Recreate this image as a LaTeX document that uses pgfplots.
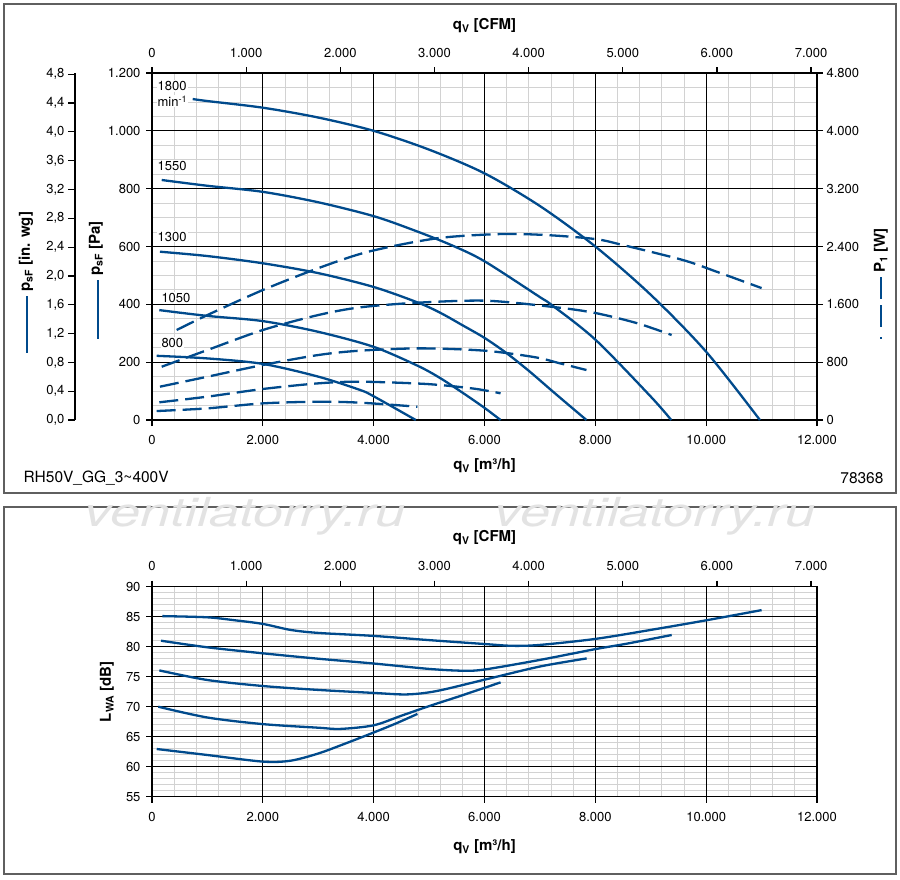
\documentclass[border=0pt]{standalone}
\usepackage{pgfplots}
\pgfplotsset{compat=1.18}
\usepackage{fontspec}
\setmainfont{TeX Gyre Heros}
\definecolor{curve}{RGB}{0,74,140}
\definecolor{mgrid}{RGB}{210,210,210}
\definecolor{framec}{RGB}{95,95,95}
\pgfplotsset{
  base/.style={scale only axis, width=665pt,
    xmin=0, xmax=12000,
    axis line style={black, line width=1.4pt},
    tick style={black, line width=1.2pt},
    major tick length=6pt, minor tick length=0pt,
    tick align=outside,
    ticklabel style={font=\fontsize{13}{15}\selectfont},
    label style={font=\bfseries\fontsize{15}{17}\selectfont},
    scaled ticks=false,
    /pgf/number format/assume math mode=true,
    /pgf/number format/use comma,
    /pgf/number format/1000 sep={.},
  },
  gridonly/.style={scale only axis, width=665pt, xmin=0, xmax=12000,
    axis line style={draw=none}, tick style={draw=none},
    scaled ticks=false,
    xticklabels={}, yticklabels={}, grid=minor,
    minor grid style={mgrid, line width=0.8pt}},
  cP/.style={curve, line width=2.3pt, smooth, tension=0.5, mark=none},
  cW/.style={curve, line width=2.3pt, smooth, tension=0.5, mark=none, dash pattern=on 19pt off 7pt},
}
\begin{document}
\begin{tikzpicture}
\useasboundingbox (0,0) rectangle (900pt,-879pt);
\fill[white] (0,0) rectangle (900pt,-879pt);
\draw[framec, line width=1.3pt] (4pt,-4pt) rectangle (896pt,-493pt);
\draw[framec, line width=1.3pt] (4pt,-507pt) rectangle (896pt,-874pt);

% watermark
\node[font=\itshape\fontsize{40}{40}\selectfont, text=black!11, xscale=1.35] at (245pt,-516pt) {ventilatorry.ru};
\node[font=\itshape\fontsize{40}{40}\selectfont, text=black!11, xscale=1.35] at (655pt,-516pt) {ventilatorry.ru};

% ================= TOP PANEL =================
\begin{axis}[gridonly, at={(152pt,-420pt)}, anchor=south west, height=347pt,
  ymin=0, ymax=1200, xtick={0,2000,...,12000}, ytick={0,200,...,1200},
  minor x tick num=4, minor y tick num=3]
\end{axis}

\begin{axis}[base, at={(152pt,-420pt)}, anchor=south west, height=347pt,
  ymin=0, ymax=1200,
  xtick={0,2000,...,12000}, ytick={0,200,...,1200},
  grid=major, major grid style={black, line width=1.2pt},
  xtick pos=left, ytick pos=left,
  xticklabel style={yshift=-6pt},
  yticklabel style={xshift=-2pt},
  xlabel={q\textsubscript{V} [m³/h]},
  xlabel style={at={(axis description cs:0.5,0)}, anchor=center, yshift=-46pt},
]
\addplot[cP] coordinates {(734,1110)(1000,1103)(2000,1080)(3000,1046)(4000,1000)(5000,935)(6000,853)(7000,740)(8000,600)(9000,433)(10000,236)(10970,0)};
\addplot[cP] coordinates {(175,830)(1000,810)(2000,789)(3000,753)(4000,705)(4716,657)(5400,605)(6000,549)(7000,425)(7212,398)(8000,278)(9000,81)(9370,0)};
\addplot[cP] coordinates {(144,582)(1000,567)(2000,542)(3000,508)(4000,460)(4800,406)(5200,371)(5600,328)(6000,284)(6400,231)(6800,170)(7200,104)(7500,55)(7840,0)};
\addplot[cP] coordinates {(132,380)(1000,360)(2000,342)(3000,305)(4000,253)(4800,187)(5200,145)(5600,95)(6000,42)(6290,0)};
\addplot[cP] coordinates {(85,222)(1000,213)(2000,194)(3000,150)(3753,104)(4000,82)(4760,0)};
\begin{scope}[every node/.style={anchor=west, fill=white, inner sep=1pt, font=\fontsize{13}{15}\selectfont}]
\node at (axis cs:80,1155) {1800};
\node at (axis cs:80,1103) {min\textsuperscript{-1}};
\node at (axis cs:80,880) {1550};
\node at (axis cs:80,634) {1300};
\node at (axis cs:150,422) {1050};
\node at (axis cs:150,266) {800};
\end{scope}
\end{axis}

% P1 right axis
\begin{axis}[base, at={(152pt,-420pt)}, anchor=south west, height=347pt,
  ymin=0, ymax=4800, axis x line=none, axis y line*=right,
  ytick={0,800,...,4800}, ytick pos=right,
]
\addplot[cW] coordinates {(445,1245)(1000,1452)(2000,1798)(3000,2100)(3904,2328)(5137,2513)(6280,2572)(7122,2558)(8000,2503)(8500,2420)(9580,2213)(10190,2051)(11000,1825)};
\addplot[cW] coordinates {(175,737)(1000,968)(2000,1245)(3000,1452)(3753,1558)(4776,1622)(6040,1650)(7303,1558)(8000,1480)(8745,1341)(9377,1176)};
\addplot[cW] coordinates {(144,461)(1000,599)(2000,761)(3000,899)(3753,959)(4850,991)(6000,959)(6900,870)(7362,784)(7840,691)};
\addplot[cW] coordinates {(132,245)(1000,323)(2000,429)(3000,507)(3753,530)(4956,498)(5800,435)(6290,369)};
\addplot[cW] coordinates {(85,124)(1000,161)(2000,230)(3000,253)(3753,240)(4790,184)};
\end{axis}

% CFM top axis
\begin{axis}[base, at={(152pt,-420pt)}, anchor=south west, height=347pt,
  xmin=0, xmax=7062.9, ymin=0, ymax=1,
  axis y line=none, axis x line*=top,
  xtick={0,1000,...,7000},
  xticklabel style={yshift=6pt},
  xlabel={q\textsubscript{V} [CFM]},
  xlabel style={at={(axis description cs:0.5,1)}, anchor=center, yshift=47pt},
]
\end{axis}

% in. wg axis
\begin{axis}[scale only axis, at={(75pt,-420pt)}, anchor=south west, width=1pt, height=347pt,
  xmin=0, xmax=1, ymin=0, ymax=4.817,
  axis x line=none, axis y line*=left,
  axis line style={black, line width=1.4pt},
  tick style={black, line width=1.2pt}, major tick length=7pt, tick align=outside,
  ytick={0,0.4,0.8,1.2,1.6,2.0,2.4,2.8,3.2,3.6,4.0,4.4,4.8},
  ticklabel style={font=\fontsize{13}{15}\selectfont},
  yticklabel style={/pgf/number format/.cd, fixed, fixed zerofill, precision=1, use comma, assume math mode=true},
]
\end{axis}

% axis titles with keys
\node[rotate=90, anchor=west, inner sep=0pt, font=\bfseries\fontsize{15}{17}\selectfont] at (26pt,-292pt) {p\textsubscript{sF} [in. wg]};
\draw[curve, line width=2.3pt] (26.7pt,-296pt) -- (26.7pt,-353pt);
\node[rotate=90, anchor=west, inner sep=0pt, font=\bfseries\fontsize{15}{17}\selectfont] at (96pt,-276pt) {p\textsubscript{sF} [Pa]};
\draw[curve, line width=2.3pt] (98pt,-280pt) -- (98pt,-339pt);
\node[rotate=90, anchor=west, inner sep=0pt, font=\bfseries\fontsize{15}{17}\selectfont] at (881pt,-273pt) {P\textsubscript{1} [W]};
\draw[curve, line width=2.3pt, dash pattern=on 22pt off 6pt on 22pt off 10pt on 2pt off 100pt] (881pt,-277pt) -- (881pt,-340pt);

\node[anchor=west, font=\fontsize{15.5}{17}\selectfont] at (20pt,-478pt) {RH50V\_GG\_3\textasciitilde400V};
\node[anchor=east, font=\fontsize{15.5}{17}\selectfont] at (887pt,-478pt) {78368};

% ================= BOTTOM PANEL =================
\begin{axis}[gridonly, at={(152pt,-796.7pt)}, anchor=south west, height=210pt,
  ymin=55, ymax=90, xtick={0,2000,...,12000}, ytick={55,60,...,90},
  minor x tick num=4, minor y tick num=4]
\end{axis}

\begin{axis}[base, at={(152pt,-796.7pt)}, anchor=south west, height=210pt,
  ymin=55, ymax=90,
  xtick={0,2000,...,12000}, ytick={55,60,...,90},
  grid=major, major grid style={black, line width=1.2pt},
  xtick pos=left, ytick pos=left,
  xticklabel style={yshift=-6pt},
  yticklabel style={xshift=-2pt},
  xlabel={q\textsubscript{V} [m³/h]},
  xlabel style={at={(axis description cs:0.5,0)}, anchor=center, yshift=-50pt},
  ylabel={L\textsubscript{WA} [dB]},
  ylabel style={at={(axis description cs:-0.0677,0.5)}, anchor=center},
]
\addplot[cP] coordinates {(186,85.1)(1000,84.9)(1500,84.4)(2000,83.8)(2500,82.8)(3000,82.3)(4000,81.8)(5000,81.1)(6000,80.45)(6500,80.15)(7000,80.3)(8000,81.3)(9000,82.8)(10000,84.4)(11000,86.1)};
\addplot[cP] coordinates {(162,81.0)(1000,79.9)(2000,78.9)(3000,78.0)(4000,77.2)(5000,76.3)(5600,76.0)(6000,76.2)(7000,77.8)(8000,79.6)(8565,80.5)(9378,81.95)};
\addplot[cP] coordinates {(132,76.05)(1000,74.45)(2000,73.45)(3000,72.8)(4000,72.3)(4600,72.05)(5130,72.6)(6000,74.5)(7000,76.7)(7844,78.05)};
\addplot[cP] coordinates {(114,70.0)(1000,68.2)(2000,67.1)(3000,66.5)(3400,66.3)(4000,66.9)(4500,68.5)(5000,70.1)(5500,71.6)(6000,73.15)(6290,74.05)};
\addplot[cP] coordinates {(85,62.95)(1000,61.95)(2000,60.85)(2500,61.0)(3000,62.2)(3500,63.9)(4000,65.7)(4400,67.2)(4790,68.8)};
\end{axis}

\begin{axis}[base, at={(152pt,-796.7pt)}, anchor=south west, height=210pt,
  xmin=0, xmax=7062.9, ymin=0, ymax=1,
  axis y line=none, axis x line*=top,
  xtick={0,1000,...,7000},
  xticklabel style={yshift=6pt},
  xlabel={q\textsubscript{V} [CFM]},
  xlabel style={at={(axis description cs:0.5,1)}, anchor=center, yshift=49pt},
]
\end{axis}
\end{tikzpicture}
\end{document}
